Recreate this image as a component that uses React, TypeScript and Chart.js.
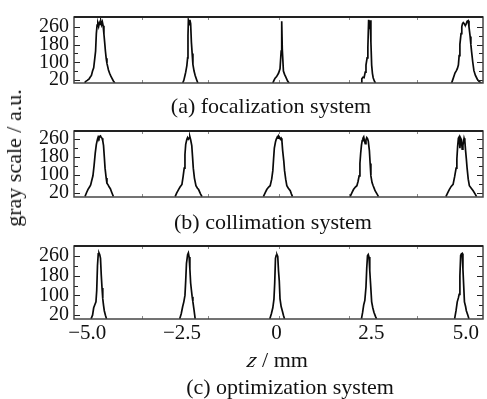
import React, { useEffect, useRef } from "react";
import { Chart, registerables } from "chart.js";
Chart.register(...registerables);

// ---- data ----
const xTickValues = [-5, -2.5, 0, 2.5, 5];
const xTickLabels = ["\u22125.0", "\u22122.5", "0", "2.5", "5.0"];
const xMinorTicks = [-3.55, -1.8, 0.05, 1.9, 3.7];
const yTickValues = [20, 100, 180, 260];
const yMinorTicks = [60, 140, 220];

// (a) focalization system: each peak is a list of [z (mm), gray]
const focalization: [number, number][][] = [
  [[-5.06, 6], [-5.05, 12], [-5.0, 18], [-4.95, 25], [-4.92, 33], [-4.89, 40], [-4.86, 60], [-4.83, 75], [-4.8, 120], [-4.78, 150], [-4.76, 230], [-4.74, 268], [-4.72, 275], [-4.7, 262], [-4.68, 280], [-4.66, 272], [-4.64, 285], [-4.62, 270], [-4.6, 282], [-4.58, 265], [-4.56, 228], [-4.54, 190], [-4.52, 150], [-4.5, 118], [-4.48, 95], [-4.46, 80], [-4.44, 65], [-4.41, 50], [-4.38, 38], [-4.35, 28], [-4.31, 15], [-4.27, 6]],
  [[-2.48, 6], [-2.45, 18], [-2.42, 40], [-2.4, 55], [-2.37, 85], [-2.35, 120], [-2.34, 220], [-2.33, 288], [-2.31, 270], [-2.29, 292], [-2.27, 275], [-2.25, 190], [-2.23, 140], [-2.21, 90], [-2.18, 60], [-2.15, 40], [-2.11, 20], [-2.08, 6]],
  [[-0.1, 6], [-0.07, 18], [-0.04, 28], [0.0, 35], [0.05, 50], [0.09, 70], [0.12, 150], [0.13, 286], [0.14, 286], [0.15, 160], [0.18, 60], [0.21, 45], [0.25, 30], [0.29, 15], [0.33, 6]],
  [[2.23, 6], [2.25, 25], [2.28, 32], [2.31, 30], [2.34, 55], [2.36, 87], [2.39, 120], [2.41, 168], [2.43, 292], [2.45, 250], [2.47, 290], [2.49, 192], [2.51, 87], [2.53, 50], [2.55, 30], [2.58, 15], [2.61, 6]],
  [[4.62, 6], [4.65, 20], [4.68, 35], [4.71, 51], [4.74, 60], [4.77, 70], [4.8, 87], [4.82, 130], [4.84, 181], [4.87, 230], [4.89, 262], [4.91, 275], [4.93, 280], [4.95, 276], [4.97, 270], [4.99, 268], [5.01, 275], [5.03, 285], [5.06, 288], [5.08, 260], [5.11, 217], [5.13, 180], [5.15, 146], [5.18, 100], [5.21, 62], [5.25, 40], [5.3, 23], [5.35, 12], [5.41, 6]],
];

// (b) collimation system
const collimation: [number, number][][] = [
  [[-5.06, 3], [-5.02, 20], [-4.98, 35], [-4.94, 45], [-4.91, 55], [-4.88, 75], [-4.85, 95], [-4.82, 140], [-4.79, 195], [-4.76, 235], [-4.73, 258], [-4.71, 268], [-4.69, 262], [-4.67, 270], [-4.65, 272], [-4.63, 265], [-4.61, 262], [-4.59, 250], [-4.57, 229], [-4.55, 180], [-4.53, 129], [-4.5, 85], [-4.48, 62], [-4.45, 55], [-4.42, 45], [-4.39, 38], [-4.35, 20], [-4.31, 3]],
  [[-2.68, 3], [-2.64, 18], [-2.59, 34], [-2.55, 45], [-2.5, 57], [-2.47, 90], [-2.44, 129], [-2.42, 190], [-2.4, 235], [-2.37, 257], [-2.35, 265], [-2.33, 258], [-2.31, 262], [-2.29, 268], [-2.27, 255], [-2.24, 229], [-2.22, 180], [-2.2, 129], [-2.17, 85], [-2.13, 51], [-2.09, 40], [-2.06, 34], [-2.01, 15], [-1.97, 3]],
  [[-0.35, 3], [-0.3, 20], [-0.26, 34], [-0.21, 45], [-0.17, 51], [-0.13, 80], [-0.1, 118], [-0.08, 170], [-0.06, 218], [-0.03, 245], [-0.01, 257], [0.02, 268], [0.04, 262], [0.06, 270], [0.08, 265], [0.1, 258], [0.12, 262], [0.14, 250], [0.16, 207], [0.19, 160], [0.21, 118], [0.24, 80], [0.27, 51], [0.31, 40], [0.36, 29], [0.39, 15], [0.42, 3]],
  [[1.94, 3], [1.99, 20], [2.03, 34], [2.08, 45], [2.12, 51], [2.15, 70], [2.18, 95], [2.2, 150], [2.22, 195], [2.24, 230], [2.26, 251], [2.28, 262], [2.3, 268], [2.32, 250], [2.34, 238], [2.36, 255], [2.38, 265], [2.4, 260], [2.42, 250], [2.45, 207], [2.47, 150], [2.49, 95], [2.52, 65], [2.55, 51], [2.58, 38], [2.6, 29], [2.65, 15], [2.69, 3]],
  [[4.47, 3], [4.52, 20], [4.56, 34], [4.61, 48], [4.66, 57], [4.7, 90], [4.74, 129], [4.76, 170], [4.78, 225], [4.8, 262], [4.82, 268], [4.84, 218], [4.86, 262], [4.88, 255], [4.9, 213], [4.92, 230], [4.95, 262], [4.97, 250], [4.99, 207], [5.01, 170], [5.03, 129], [5.06, 80], [5.09, 51], [5.14, 40], [5.19, 29], [5.24, 15], [5.28, 3]],
];

// (c) optimization system
const optimization: [number, number][][] = [
  [[-4.9, 5], [-4.86, 20], [-4.83, 50], [-4.8, 62], [-4.77, 74], [-4.75, 120], [-4.73, 220], [-4.71, 268], [-4.69, 272], [-4.67, 265], [-4.65, 250], [-4.63, 182], [-4.61, 130], [-4.59, 86], [-4.57, 60], [-4.55, 38], [-4.52, 20], [-4.49, 5]],
  [[-2.56, 5], [-2.52, 25], [-2.48, 55], [-2.45, 74], [-2.42, 100], [-2.4, 160], [-2.38, 230], [-2.35, 265], [-2.33, 272], [-2.31, 255], [-2.29, 207], [-2.27, 150], [-2.25, 122], [-2.23, 95], [-2.21, 74], [-2.18, 40], [-2.15, 5]],
  [[-0.18, 5], [-0.14, 25], [-0.1, 50], [-0.07, 85], [-0.05, 150], [-0.03, 250], [-0.01, 262], [0.01, 265], [0.03, 258], [0.05, 200], [0.07, 160], [0.09, 86], [0.12, 55], [0.15, 38], [0.18, 20], [0.21, 5]],
  [[2.24, 5], [2.27, 30], [2.3, 62], [2.33, 80], [2.36, 134], [2.38, 210], [2.4, 260], [2.42, 265], [2.44, 255], [2.46, 200], [2.48, 150], [2.51, 74], [2.54, 50], [2.57, 32], [2.61, 15], [2.64, 5]],
  [[4.7, 5], [4.74, 40], [4.77, 74], [4.8, 90], [4.82, 104], [4.84, 180], [4.86, 262], [4.88, 268], [4.9, 270], [4.92, 206], [4.94, 140], [4.96, 74], [4.99, 55], [5.01, 38], [5.05, 20], [5.08, 5]],
];

const X_MIN = -5.35;
const X_MAX = 5.45;
const FONT = '"Liberation Serif", "Times New Roman", serif';

function toPoints(peaks: [number, number][][]) {
  const out: { x: number; y: number | null }[] = [];
  peaks.forEach((pk, i) => {
    pk.forEach(([x, y]) => out.push({ x, y }));
    if (i < peaks.length - 1) out.push({ x: (pk[pk.length - 1][0] + peaks[i + 1][0][0]) / 2, y: null });
  });
  return out;
}

const framePlugin = {
  id: "frame",
  afterDraw(chart: any) {
    const { ctx, chartArea: a, scales } = chart;
    const y = scales.y;
    const x = scales.x;
    ctx.save();
    ctx.strokeStyle = "#222";
    ctx.lineWidth = 1;
    const drawY = (vals: number[], len: number) =>
      vals.forEach((v) => {
        const py = Math.round(y.getPixelForValue(v)) + 0.5;
        ctx.beginPath();
        ctx.moveTo(a.left, py);
        ctx.lineTo(a.left + len, py);
        ctx.moveTo(a.right, py);
        ctx.lineTo(a.right - len, py);
        ctx.stroke();
      });
    drawY(yTickValues, 6);
    drawY(yMinorTicks, 4);
    ctx.strokeStyle = "#888";
    const drawX = (vals: number[], len: number) =>
      vals.forEach((v) => {
        const px = Math.round(x.getPixelForValue(v)) + 0.5;
        ctx.beginPath();
        ctx.moveTo(px, a.bottom);
        ctx.lineTo(px, a.bottom - len);
        ctx.moveTo(px, a.top);
        ctx.lineTo(px, a.top + len);
        ctx.stroke();
      });
    drawX(xMinorTicks, 3);
    ctx.strokeStyle = "#444";
    ctx.lineWidth = 1.5;
    ctx.strokeRect(a.left, a.top, a.right - a.left, a.bottom - a.top);
    ctx.strokeStyle = "#222";
    ctx.lineWidth = 2;
    ctx.beginPath();
    ctx.moveTo(a.left, a.top);
    ctx.lineTo(a.right, a.top);
    ctx.stroke();
    ctx.restore();
  },
};

type PanelProps = {
  peaks: [number, number][][];
  top: number;
  height: number;
  yMin: number;
  yMax: number;
  padTop: number;
  padBottom: number;
  showX: boolean;
};

function Panel({ peaks, top, height, yMin, yMax, padTop, padBottom, showX }: PanelProps) {
  const ref = useRef<HTMLCanvasElement>(null);
  useEffect(() => {
    if (!ref.current) return;
    const chart = new Chart(ref.current, {
      type: "line",
      data: {
        datasets: [
          {
            data: toPoints(peaks) as any,
            borderColor: "#0a0a0a",
            borderWidth: 1.7,
            pointRadius: 0,
            tension: 0,
            spanGaps: false,
            fill: false,
          },
        ],
      },
      options: {
        responsive: false,
        animation: false,
        events: [],
        layout: { padding: { top: padTop, right: 4, bottom: padBottom, left: 0 } },
        plugins: { legend: { display: false }, tooltip: { enabled: false } },
        scales: {
          x: {
            type: "linear",
            min: X_MIN,
            max: X_MAX,
            display: showX,
            afterFit: (s: any) => {
              s.height = showX ? 32 : 0;
            },
            afterBuildTicks: (s: any) => {
              s.ticks = xTickValues.map((v) => ({ value: v }));
            },
            ticks: {
              callback: (_v: any, i: number) => xTickLabels[i],
              font: { family: FONT, size: 21 },
              color: "#111",
              padding: 2,
              maxRotation: 0,
              autoSkip: false,
            },
            grid: { display: false, drawTicks: false },
            border: { display: false },
          },
          y: {
            type: "linear",
            min: yMin,
            max: yMax,
            afterFit: (s: any) => {
              s.width = 74;
            },
            afterBuildTicks: (s: any) => {
              s.ticks = yTickValues.map((v) => ({ value: v }));
            },
            ticks: {
              font: { family: FONT, size: 20 },
              color: "#111",
              padding: 5,
              autoSkip: false,
            },
            grid: { display: false, drawTicks: false },
            border: { display: false },
          },
        },
      },
      plugins: [framePlugin],
    });
    return () => chart.destroy();
  }, []);
  return (
    <canvas
      ref={ref}
      width={487}
      height={height}
      style={{ position: "absolute", left: 0, top, width: 487, height, display: "block" }}
    />
  );
}

const textStyle = (cx: number, cy: number, extra: React.CSSProperties = {}): React.CSSProperties => ({
  position: "absolute",
  left: cx,
  top: cy,
  transform: "translate(-50%, -50%)",
  fontFamily: FONT,
  fontSize: 22,
  lineHeight: "22px",
  color: "#111",
  whiteSpace: "nowrap",
  ...extra,
});

export default function App() {
  return (
    <div style={{ position: "absolute", left: 0, top: 0, width: 487, height: 399, background: "#fff", overflow: "hidden" }}>
      <Panel peaks={focalization} top={0} height={100} yMin={6} yMax={305} padTop={8} padBottom={7} showX={false} />
      <Panel peaks={collimation} top={114} height={100} yMin={1} yMax={294} padTop={8} padBottom={4} showX={false} />
      <Panel peaks={optimization} top={229} height={122} yMin={4.5} yMax={300} padTop={8} padBottom={0} showX={true} />
      <div style={textStyle(271, 106)}>(a) focalization system</div>
      <div style={textStyle(273, 222)}>(b) collimation system</div>
      <div style={textStyle(278, 360)}>
        <span style={{ fontStyle: "italic", display: "inline-block", transform: "skewX(-14deg)" }}>z</span> / mm
      </div>
      <div style={textStyle(290, 387)}>(c) optimization system</div>
      <div style={textStyle(14, 158, { transform: "translate(-50%, -50%) rotate(-90deg)" })}>gray scale / a.u.</div>
    </div>
  );
}
